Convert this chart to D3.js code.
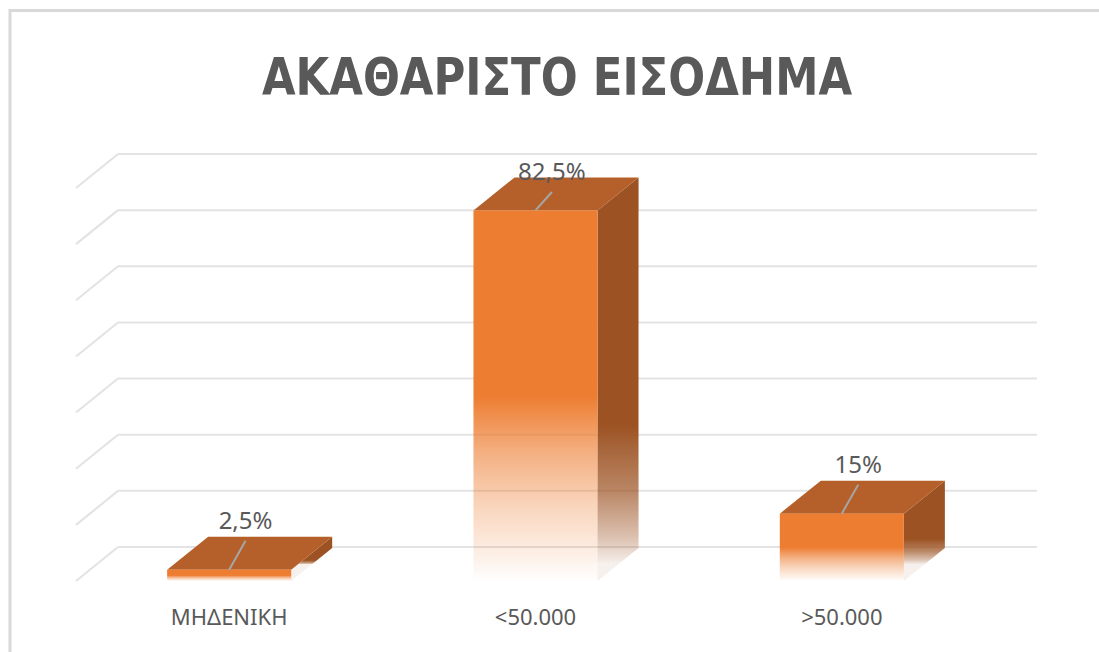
<!DOCTYPE html>
<html lang="el">
<head>
  <meta charset="UTF-8">
  <title>ΑΚΑΘΑΡΙΣΤΟ ΕΙΣΟΔΗΜΑ</title>
  <script src="https://d3js.org/d3.v7.min.js"></script>
  <style>
    body { margin: 0; background: #fff; }
  </style>
</head>
<body>
  <div id="chart"></div>
  <script>
    // data
    const categories = ["ΜΗΔΕΝΙΚΗ", "<50.000", ">50.000"];
    const values = [2.5, 82.5, 15];
    const valueLabels = ["2,5%", "82,5%", "15%"];
    const gridValues = [0, 12.5, 25, 37.5, 50, 62.5, 75, 87.5];

    const width = 1099;
    const height = 652;

    // 3d depth offset (back wall relative to front plane)
    const depth = {dx: 42, dy: -34};
    const barDepth = {dx: 41, dy: -33};

    const orange = "#ED7D31";
    const topColor = "#B5602A";
    const sideColor = "#9C5222";

    const svg = d3.select("#chart")
      .append("svg")
      .attr("width", width)
      .attr("height", height);

    // chart border (only top + left visible)
    svg.append("rect")
      .attr("x", 10)
      .attr("y", 10.5)
      .attr("width", width + 20)
      .attr("height", height + 20)
      .attr("fill", "#fff")
      .attr("stroke", "#D9D9D9")
      .attr("stroke-width", 3);

    svg.append("text")
      .text("ΑΚΑΘΑΡΙΣΤΟ ΕΙΣΟΔΗΜΑ")
      .attr("x", 262)
      .attr("y", 95)
      .attr("textLength", 590)
      .attr("lengthAdjust", "spacingAndGlyphs")
      .attr("fill", "#595959")
      .style("font-family", "'DejaVu Sans Condensed', 'DejaVu Sans', sans-serif")
      .style("font-weight", "bold")
      .style("font-size", "52px");

    const x = d3.scaleBand()
      .domain(categories)
      .range([76, 995])
      .padding(0);

    // front plane
    const y = d3.scaleLinear()
      .domain([0, 87.5])
      .range([581, 188]);

    const plotRight = 1037;

    // gridlines: diagonal on the side wall + horizontal on back wall
    const grid = svg.append("g");
    grid.selectAll(".gd")
      .data(gridValues)
      .enter()
      .append("line")
      .attr("x1", 76)
      .attr("y1", d => y(d))
      .attr("x2", 76 + depth.dx)
      .attr("y2", d => y(d) + depth.dy)
      .attr("stroke", "#E3E3E3")
      .attr("stroke-width", 2);
    grid.selectAll(".gh")
      .data(gridValues)
      .enter()
      .append("line")
      .attr("x1", 76 + depth.dx)
      .attr("y1", d => y(d) + depth.dy)
      .attr("x2", plotRight)
      .attr("y2", d => y(d) + depth.dy)
      .attr("stroke", "#E3E3E3")
      .attr("stroke-width", 2);

    const barW = x.bandwidth() * 0.405;
    const defs = svg.append("defs");
    const y0 = y(0);

    const bars = categories.map((c, i) => {
      const cx = x(c) + x.bandwidth() / 2;
      return {cat: c, v: values[i], label: valueLabels[i], i: i,
              x0: cx - barW / 2, x1: cx + barW / 2, cx: cx, yTop: y(values[i])};
    });

    // fading gradients per bar
    bars.forEach(b => {
      const gf = defs.append("linearGradient")
        .attr("id", "front" + b.i)
        .attr("gradientUnits", "userSpaceOnUse")
        .attr("x1", 0).attr("x2", 0)
        .attr("y1", b.yTop).attr("y2", y0);
      [[0, 1], [0.5, 1], [0.65, 0.62], [0.8, 0.32], [0.93, 0.12], [1, 0]].forEach(s => {
        gf.append("stop").attr("offset", s[0]).attr("stop-color", orange).attr("stop-opacity", s[1]);
      });
      const gs = defs.append("linearGradient")
        .attr("id", "side" + b.i)
        .attr("gradientUnits", "userSpaceOnUse")
        .attr("x1", 0).attr("x2", 0)
        .attr("y1", b.yTop + barDepth.dy / 2).attr("y2", y0 + barDepth.dy / 2);
      [[0, 1], [0.62, 1], [0.8, 0.7], [0.93, 0.35], [1, 0.08]].forEach(s => {
        gs.append("stop").attr("offset", s[0]).attr("stop-color", sideColor).attr("stop-opacity", s[1]);
      });
    });

    const barG = svg.append("g")
      .selectAll("g")
      .data(bars)
      .enter()
      .append("g");

    const pts = p => p.map(q => q.join(",")).join(" ");

    // side face
    barG.append("polygon")
      .attr("points", b => pts([
        [b.x1, b.yTop], [b.x1 + barDepth.dx, b.yTop + barDepth.dy],
        [b.x1 + barDepth.dx, y0 + barDepth.dy], [b.x1, y0]]))
      .attr("fill", b => "url(#side" + b.i + ")");

    // top face
    barG.append("polygon")
      .attr("points", b => pts([
        [b.x0, b.yTop], [b.x1, b.yTop],
        [b.x1 + barDepth.dx, b.yTop + barDepth.dy], [b.x0 + barDepth.dx, b.yTop + barDepth.dy]]))
      .attr("fill", topColor);

    // front face
    barG.append("rect")
      .attr("x", b => b.x0)
      .attr("y", b => b.yTop)
      .attr("width", barW)
      .attr("height", b => y0 - b.yTop)
      .attr("fill", b => "url(#front" + b.i + ")");

    // data labels with leader lines
    const labelX = b => b.cx + barDepth.dx * 0.4;
    const labelY = b => Math.max(b.yTop + barDepth.dy - 8, 180);

    barG.append("line")
      .attr("x1", b => b.cx)
      .attr("y1", b => b.yTop)
      .attr("x2", labelX)
      .attr("y2", b => labelY(b) + 12)
      .attr("stroke", "#A6A6A6")
      .attr("stroke-width", 2);

    barG.append("text")
      .text(b => b.label)
      .attr("x", labelX)
      .attr("y", labelY)
      .attr("fill", "#595959")
      .style("text-anchor", "middle")
      .style("font-family", "'Noto Sans', sans-serif")
      .style("font-size", "24px");

    // category labels
    svg.append("g")
      .selectAll("text")
      .data(categories)
      .enter()
      .append("text")
      .text(d => d)
      .attr("x", d => x(d) + x.bandwidth() / 2)
      .attr("y", 625)
      .attr("fill", "#595959")
      .style("text-anchor", "middle")
      .style("font-family", "'Noto Sans', sans-serif")
      .style("font-size", "22px");
  </script>
</body>
</html>
